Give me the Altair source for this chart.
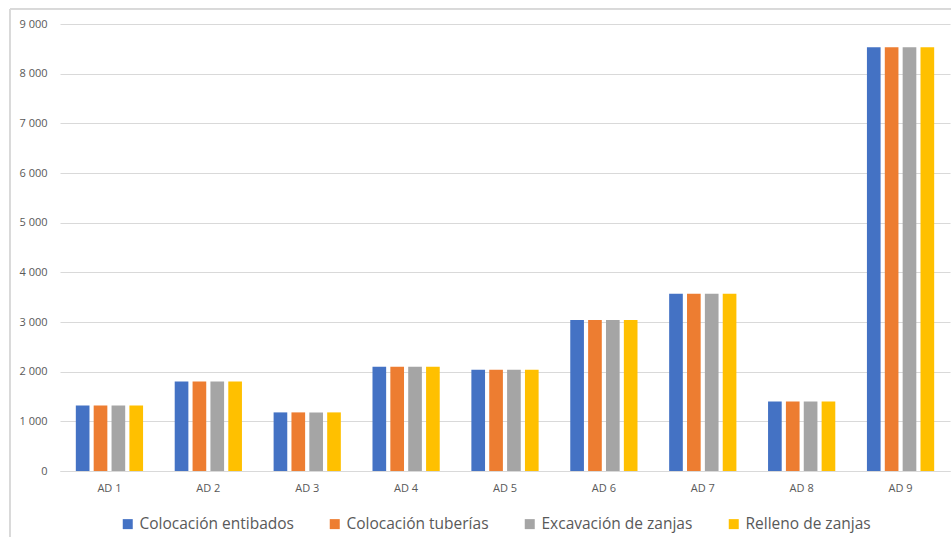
import altair as alt
import pandas as pd

categories = ["AD 1", "AD 2", "AD 3", "AD 4", "AD 5", "AD 6", "AD 7", "AD 8", "AD 9"]
series = ["Colocación entibados", "Colocación tuberías", "Excavación de zanjas", "Relleno de zanjas"]
colors = ["#4472C4", "#ED7D31", "#A5A5A5", "#FFC000"]

entibados = [1320, 1800, 1180, 2100, 2040, 3040, 3570, 1400, 8530]
tuberias = [1320, 1800, 1180, 2100, 2040, 3040, 3570, 1400, 8530]
excavacion = [1320, 1800, 1180, 2100, 2040, 3040, 3570, 1400, 8530]
relleno = [1320, 1800, 1180, 2100, 2040, 3040, 3570, 1400, 8530]

rows = []
for name, vals in zip(series, [entibados, tuberias, excavacion, relleno]):
    for c, v in zip(categories, vals):
        rows.append({"cat": c, "serie": name, "valor": v})
df = pd.DataFrame(rows)

FONT = "Open Sans"
GRAY = "#595959"

bars = alt.Chart(df).mark_bar().encode(
    x=alt.X("cat:N", sort=categories, title=None,
            scale=alt.Scale(paddingInner=0.32, paddingOuter=0.16),
            axis=alt.Axis(labelAngle=0, ticks=False, domain=True, domainColor="#d9d9d9",
                          labelFont=FONT, labelFontSize=11, labelColor=GRAY, labelPadding=11)),
    xOffset=alt.XOffset("serie:N", sort=series,
                        scale=alt.Scale(paddingInner=0.235, paddingOuter=0)),
    y=alt.Y("valor:Q", title=None,
            scale=alt.Scale(domain=[0, 9000], nice=False),
            axis=alt.Axis(values=list(range(0, 9001, 1000)), ticks=False, domain=False,
                          gridColor="#d9d9d9", labelFont=FONT, labelFontSize=11,
                          labelColor=GRAY, labelPadding=13,
                          labelExpr="replace(format(datum.value, ','), ',', ' ')")),
    color=alt.Color("serie:N", sort=series, title=None,
                    scale=alt.Scale(domain=series, range=colors),
                    legend=alt.Legend(orient="none", legendX=60, legendY=492,
                                      direction="horizontal", symbolType="square",
                                      symbolSize=100, symbolStrokeWidth=0,
                                      labelFont=FONT, labelFontSize=15.5, labelColor=GRAY,
                                      labelOffset=4, columnPadding=33)),
)

frame_left = alt.Chart(df).mark_rule(color="#d9d9d9", strokeWidth=1).encode(
    x=alt.value(-50), y=alt.value(-15), y2=alt.value(520))
frame_top = alt.Chart(df).mark_rule(color="#d9d9d9", strokeWidth=1).encode(
    x=alt.value(-50), x2=alt.value(900), y=alt.value(-15))

chart = alt.layer(frame_left, frame_top, bars).properties(
    width=890, height=447,
    autosize=alt.AutoSizeParams(type="none"),
    padding={"left": 60, "top": 24, "right": 1, "bottom": 66},
    background="white",
).configure_view(stroke=None)

chart.save("out.html", embed_options={"renderer": "svg", "actions": False})
